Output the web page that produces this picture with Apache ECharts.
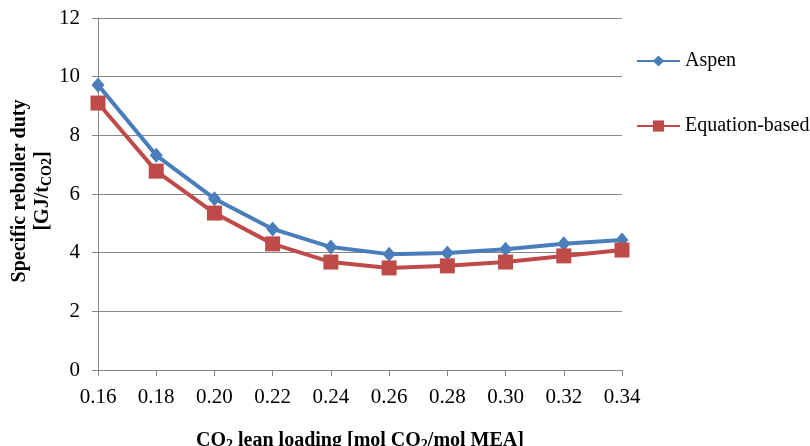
<!DOCTYPE html>
<html>
<head>
<meta charset="utf-8">
<script src="https://cdn.jsdelivr.net/npm/echarts@6/dist/echarts.min.js"></script>
<style>
  html, body { margin: 0; padding: 0; background: #fff; }
  #main { width: 810px; height: 446px; }
</style>
</head>
<body>
<div id="main"></div>
<script>
var loadings = ['0.16', '0.18', '0.20', '0.22', '0.24', '0.26', '0.28', '0.30', '0.32', '0.34'];
var aspen = [9.72, 7.32, 5.84, 4.81, 4.19, 3.95, 3.99, 4.12, 4.30, 4.43];
var equationBased = [9.10, 6.78, 5.35, 4.30, 3.68, 3.48, 3.55, 3.68, 3.89, 4.09];

var font = '"Liberation Serif", "Times New Roman", serif';
var chart = echarts.init(document.getElementById('main'));

chart.setOption({
  backgroundColor: '#ffffff',
  textStyle: { fontFamily: font },
  color: ['#4a7ebb', '#be4b48'],
  grid: { left: 98, right: 188, top: 18, bottom: 76, outerBoundsMode: 'none', containLabel: false },
  legend: {
    orient: 'vertical',
    left: 631,
    top: 46,
    itemWidth: 43,
    itemHeight: 14,
    itemGap: 45,
    textStyle: { fontFamily: font, fontSize: 20, color: '#000' },
    data: ['Aspen', 'Equation-based']
  },
  xAxis: {
    type: 'category',
    boundaryGap: false,
    data: loadings,
    axisLine: { lineStyle: { color: '#868686', width: 1 } },
    axisTick: { alignWithLabel: true, length: 6, lineStyle: { color: '#868686' } },
    axisLabel: { fontFamily: font, fontSize: 21, color: '#000', margin: 17 },
    name: '{b|CO}{s|2}{b| lean loading [mol CO}{s|2}{b|/mol MEA]}',
    nameLocation: 'middle',
    nameGap: 59,
    nameTextStyle: {
      rich: {
        b: { fontFamily: font, fontSize: 20, fontWeight: 'bold', color: '#000' },
        s: { fontFamily: font, fontSize: 14, fontWeight: 'bold', color: '#000', padding: [9, 0, 0, 0] }
      }
    }
  },
  yAxis: {
    type: 'value',
    min: 0,
    max: 12,
    interval: 2,
    axisLine: { show: true, lineStyle: { color: '#868686', width: 1 } },
    axisTick: { show: true, length: 6, lineStyle: { color: '#868686' } },
    splitLine: { lineStyle: { color: '#868686', width: 1 } },
    axisLabel: { fontFamily: font, fontSize: 21, color: '#000', margin: 18 }
  },
  graphic: [{
    type: 'text',
    x: 31,
    y: 191,
    rotation: Math.PI / 2,
    style: {
      text: '{b|Specific reboiler duty}\n{b|[GJ/t}{s|CO2}{b|]}',
      align: 'center',
      verticalAlign: 'middle',
      rich: {
        b: { fontFamily: font, fontSize: 20, fontWeight: 'bold', fill: '#000', lineHeight: 23 },
        s: { fontFamily: font, fontSize: 14, fontWeight: 'bold', fill: '#000', lineHeight: 23, padding: [9, 0, 0, 0] }
      }
    }
  }],
  series: [{
    name: 'Aspen',
    type: 'line',
    data: aspen,
    symbol: 'diamond',
    symbolSize: [13, 15],
    lineStyle: { width: 4 }
  }, {
    name: 'Equation-based',
    type: 'line',
    data: equationBased,
    symbol: 'rect',
    symbolSize: 15,
    lineStyle: { width: 4 }
  }]
});
</script>
</body>
</html>
